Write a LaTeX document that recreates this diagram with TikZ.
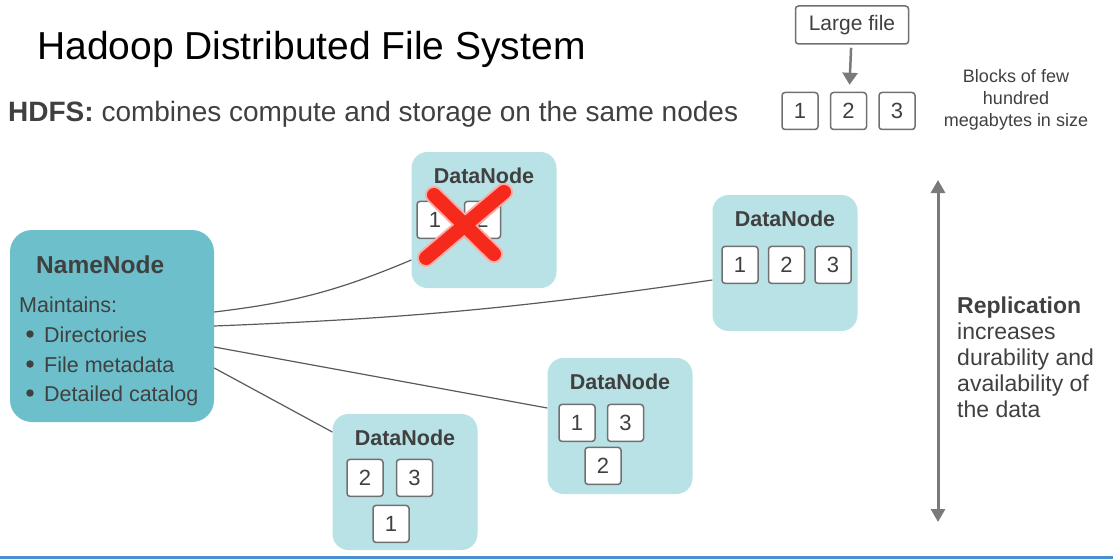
\documentclass[tikz,border=0pt]{standalone}
\usepackage{fontspec}
\setmainfont{Liberation Sans}
\usetikzlibrary{positioning,arrows.meta}

\definecolor{txtgray}{HTML}{404040}
\definecolor{nnteal}{HTML}{6DC0CB}
\definecolor{dnblue}{HTML}{B9E2E6}
\definecolor{boxgray}{HTML}{707070}
\definecolor{linkgray}{HTML}{5A5A5A}
\definecolor{arrgray}{HTML}{7A7A7A}
\definecolor{crossred}{HTML}{F52A1C}
\definecolor{rulblue}{HTML}{4A8FD0}

\begin{document}
\begin{tikzpicture}[
        x=1pt, y=-1pt,
        every node/.style={text=txtgray},
        namenode/.style={fill=nnteal, rounded corners=22pt, minimum width=204pt, minimum height=192pt},
        nnline/.style={anchor=base west, inner sep=0pt, font=\fontsize{21.5}{24}\selectfont},
        nndot/.style={circle, fill=txtgray, inner sep=0pt, minimum size=7.5pt},
        datanode/.style={fill=dnblue, rounded corners=16pt, minimum width=145pt, minimum height=136pt},
        dnlabel/.style={inner sep=0pt, font=\fontsize{21.5}{24}\selectfont\bfseries},
        blk/.style={draw=boxgray, line width=1.5pt, fill=white, rounded corners=3pt,
            minimum width=36pt, minimum height=37pt, inner sep=0pt, font=\fontsize{22}{22}\selectfont},
        link/.style={draw=linkgray, line width=1.2pt},
        crossbar/.style={draw=crossred, line width=14pt, line cap=round},
    ]
    \useasboundingbox (0,0) rectangle (1113,559);

    % headings
    \node[anchor=base west, inner sep=0pt, text=black, font=\fontsize{39}{44}\selectfont] (title) at (37,60) {Hadoop Distributed File System};
    \node[anchor=base west, inner sep=0pt, font=\fontsize{28}{32}\selectfont] (hdfs) at (8,122) {\textbf{HDFS:} combines compute and storage on the same nodes};

    % large file split into blocks
    \node[blk, minimum width=113pt, minimum height=38pt, font=\fontsize{21}{21}\selectfont] (large) at (852,25) {Large file};
    \node[blk] (f1) at (800,111) {1};
    \node[blk, right=11pt of f1] (f2) {2};
    \node[blk, right=11pt of f2] (f3) {3};
    \draw[-{Triangle[length=12pt,width=15pt]}, arrgray, line width=2.5pt, shorten <=3pt, shorten >=7pt] (large) -- (f2);
    \node[align=center, font=\fontsize{18}{22}\selectfont] (note) at (1016,100) {Blocks of few\\hundred\\megabytes in size};

    % name node
    \node[namenode] (nn) at (112,326) {};
    \node[anchor=base west, inner sep=0pt, font=\fontsize{24.5}{28}\selectfont\bfseries] (nntitle) at (36,273) {NameNode};
    \node[nnline] (nnmain) at (19,312) {Maintains:};
    \node[nnline] (nndir) at (44,342) {Directories};
    \node[nnline] (nnmeta) at (44,372) {File metadata};
    \node[nnline] (nncat) at (44,401) {Detailed catalog};
    \node[nndot] (d1) at (30,334) {};
    \node[nndot] (d2) at (30,364) {};
    \node[nndot] (d3) at (30,393) {};

    % data nodes
    \node[datanode] (dn1) at (484,220) {};
    \node[dnlabel, below=16pt of dn1.north] (dn1lbl) {DataNode};
    \node[blk] (b11) at ([shift={(-49,44)}]dn1lbl) {1};
    \node[blk, right=10pt of b11] (b12) {2};

    \node[datanode] (dn2) at (785,263) {};
    \node[dnlabel, below=16pt of dn2.north] (dn2lbl) {DataNode};
    \node[blk] (b21) at ([shift={(-45,46)}]dn2lbl) {1};
    \node[blk, right=9pt of b21] (b22) {2};
    \node[blk, right=9pt of b22] (b23) {3};

    \node[datanode] (dn3) at (620,426) {};
    \node[dnlabel, below=16pt of dn3.north] (dn3lbl) {DataNode};
    \node[blk] (b31) at ([shift={(-43,41)}]dn3lbl) {1};
    \node[blk, right=11pt of b31] (b33) {3};
    \node[blk] (b32) at ([shift={(-17,84)}]dn3lbl) {2};

    \node[datanode] (dn4) at (405,482) {};
    \node[dnlabel, below=16pt of dn4.north] (dn4lbl) {DataNode};
    \node[blk] (b42) at ([shift={(-40,40)}]dn4lbl) {2};
    \node[blk, right=12pt of b42] (b43) {3};
    \node[blk] (b41) at ([shift={(-14,86)}]dn4lbl) {1};

    % failed node
    \draw[crossbar, draw=crossred!40, line width=18pt] ([shift={(-50,-25)}]dn1.center) -- ([shift={(10,34)}]dn1.center);
    \draw[crossbar, draw=crossred!40, line width=18pt] ([shift={(20,-28)}]dn1.center) -- ([shift={(-58,38)}]dn1.center);
    \draw[crossbar] ([shift={(-50,-25)}]dn1.center) -- ([shift={(10,34)}]dn1.center);
    \draw[crossbar] ([shift={(20,-28)}]dn1.center) -- ([shift={(-58,38)}]dn1.center);

    % connectors
    \draw[link] ([yshift=14pt]nn.east) to[bend right=8] ([yshift=-40pt]dn1.west);
    \draw[link] (nn.east) to[bend right=3] ([yshift=-17pt]dn2.west);
    \draw[link] ([yshift=-21pt]nn.east) -- ([yshift=18pt]dn3.west);
    \draw[link] ([yshift=-42pt]nn.east) -- ([yshift=50pt]dn4.west);

    % replication
    \coordinate (rtop) at (938,180);
    \coordinate (rbot) at (938,522);
    \draw[{Triangle[length=13pt,width=14pt]}-{Triangle[length=13pt,width=14pt]}, arrgray, line width=3pt] (rtop) -- (rbot);
    \node[anchor=north west, inner sep=0pt, align=left, font=\fontsize{23}{26}\selectfont] (repl) at (957,297)
        {\textbf{Replication}\\increases\\durability and\\availability of\\the data};

    % bottom rule
    \coordinate (rl) at (0,557);
    \coordinate (rr) at (1113,557);
    \draw[rulblue, line width=3pt] (rl) -- (rr);
\end{tikzpicture}
\end{document}
